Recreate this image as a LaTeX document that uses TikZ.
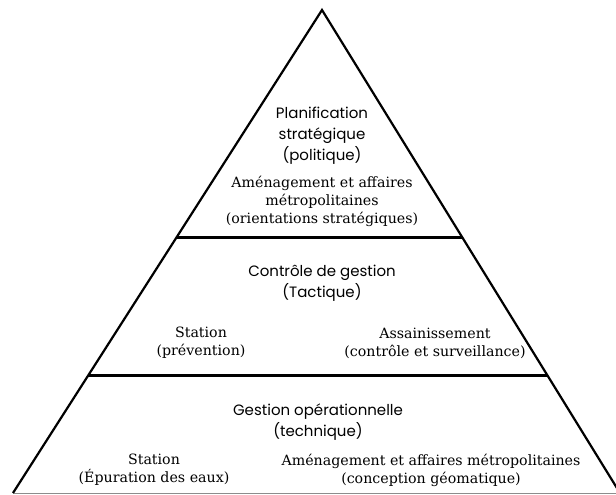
\documentclass[tikz,border=0pt]{standalone}
\usepackage{fontspec}
\setmainfont{DejaVu Serif}
\newfontfamily\geosans{Poppins}
\usetikzlibrary{calc}
\tikzset{
  edge/.style={line width=2.2pt, line join=miter},
  divider/.style={line width=3pt},
  baseline rule/.style={draw=black!45, line width=0.8pt},
  levelname/.style={font=\geosans\fontsize{15}{21}\selectfont, align=center, inner sep=0pt},
  unitname/.style={font=\fontsize{14.2}{18}\selectfont, align=center, inner sep=0pt},
}
\begin{document}
\begin{tikzpicture}[x=1pt,y=-1pt]
  \fill[white] (0,0) rectangle (616,495);
  \useasboundingbox (0,0) rectangle (616,495);

  % outline of the pyramid
  \coordinate (apex) at (322,10);
  \coordinate (bl) at (13,493);
  \coordinate (br) at (620,493);
  \coordinate (l1) at ($(apex)!0.472!(bl)$);
  \coordinate (r1) at ($(apex)!0.472!(br)$);
  \coordinate (l2) at ($(apex)!0.7557!(bl)$);
  \coordinate (r2) at ($(apex)!0.7557!(br)$);

  \draw[baseline rule] (bl) -- (br);
  \draw[edge] (bl) -- (apex) -- (br);
  \draw[divider] (l1) -- (r1);
  \draw[divider] (l2) -- (r2);

  % top level
  \node[levelname] (strat) at (322,136) {Planification\\stratégique\\(politique)};
  \node[unitname] (amenTop) at (322,201) {Aménagement et affaires\\métropolitaines\\(orientations stratégiques)};

  % middle level
  \node[levelname] (tact) at (322,283) {Contrôle de gestion\\(Tactique)};
  \node[unitname] (stPrev) at (201,343) {Station\\(prévention)};
  \node[unitname] (assain) at (435,343) {Assainissement\\(contrôle et surveillance)};

  % bottom level
  \node[levelname] (tech) at (318,422) {Gestion opérationnelle\\(technique)};
  \node[unitname] (stEpur) at (154,470) {Station\\(Épuration des eaux)};
  \node[unitname] (amenBot) at (431,470) {Aménagement et affaires métropolitaines\\(conception géomatique)};
\end{tikzpicture}
\end{document}
